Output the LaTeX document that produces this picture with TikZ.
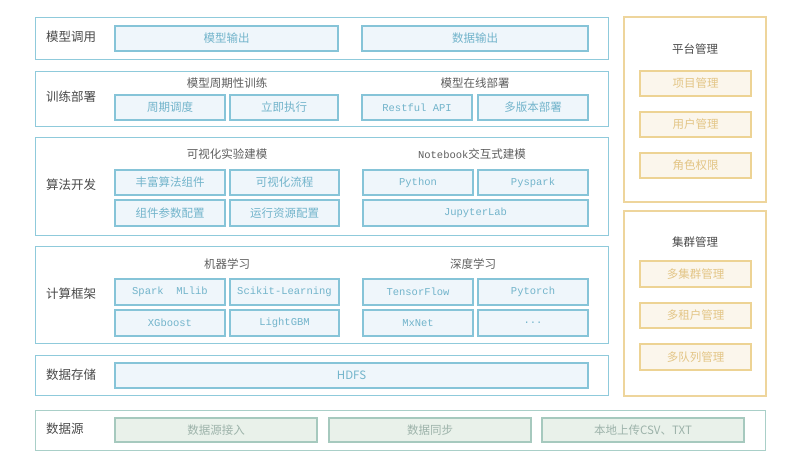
\documentclass[tikz,border=0pt]{standalone}
\usepackage{fontspec}
\setmainfont{Noto Sans CJK SC}
\newfontfamily\mono{Liberation Mono}
\newcommand\lt[1]{{\mono\fontsize{10.5}{12}\selectfont #1}}
\definecolor{bpanel}{HTML}{8FCADB}
\definecolor{bline}{HTML}{86C4D8}
\definecolor{bfill}{HTML}{EFF6FB}
\definecolor{btext}{HTML}{72B4CB}
\definecolor{opanel}{HTML}{EED59C}
\definecolor{oline}{HTML}{EDD394}
\definecolor{ofill}{HTML}{FBF6EC}
\definecolor{otext}{HTML}{E3C585}
\definecolor{gpanel}{HTML}{A9CFC8}
\definecolor{gline}{HTML}{A6C9BE}
\definecolor{gfill}{HTML}{E9F1EA}
\definecolor{gtext}{HTML}{9DB3AA}
\definecolor{labtext}{HTML}{4A4A4A}
\definecolor{tittext}{HTML}{5E5E5E}
\newcommand\bx[7]{\node[#7, minimum width={#4-#2}, minimum height={#5-#3}] (#1) at ({(#2+#4)/2},{(#3+#5)/2}) {#6};}
\tikzset{
  panelb/.style={draw=bpanel, line width=0.9pt, inner sep=0pt},
  panelo/.style={draw=opanel, line width=1.1pt, inner sep=0pt},
  panelg/.style={draw=gpanel, line width=0.9pt, inner sep=0pt},
  boxb/.style={draw=bline, fill=bfill, line width=1.1pt, inner sep=0pt, text=btext, font=\fontsize{11.5}{13}\selectfont},
  boxo/.style={draw=oline, fill=ofill, line width=1.1pt, inner sep=0pt, text=otext, font=\fontsize{11.5}{13}\selectfont},
  boxg/.style={draw=gline, fill=gfill, line width=1.1pt, inner sep=0pt, text=gtext, font=\fontsize{11.5}{13}\selectfont},
  lab/.style={anchor=west, inner sep=0pt, text=labtext, font=\fontsize{12.5}{14}\selectfont},
  tit/.style={inner sep=0pt, text=tittext, font=\fontsize{11.5}{13}\selectfont},
}
\begin{document}
\begin{tikzpicture}[x=1pt,y=-1pt]
\fill[white] (0,0) rectangle (800,461);
\useasboundingbox (0,0) rectangle (800,461);
% panels
\bx{p1}{35}{17}{608}{59}{}{panelb}
\bx{p2}{35}{71}{608}{126}{}{panelb}
\bx{p3}{35}{137}{608}{235}{}{panelb}
\bx{p4}{35}{246}{608}{343}{}{panelb}
\bx{p5}{35}{355}{608}{395}{}{panelb}
\bx{p6}{35}{410}{765}{450}{}{panelg}
\bx{pr1}{624}{17}{766}{202}{}{panelo}
\bx{pr2}{624}{211}{766}{396}{}{panelo}
% labels
\node[lab] (l1) at (46,37) {模型调用};
\node[lab] (l2) at (46,97) {训练部署};
\node[lab] (l3) at (46,185) {算法开发};
\node[lab] (l4) at (46,294) {计算框架};
\node[lab] (l5) at (46,375) {数据存储};
\node[lab] (l6) at (46,429) {数据源};
% row 1
\bx{b11}{115}{26}{338}{51}{模型输出}{boxb}
\bx{b12}{362}{26}{588}{51}{数据输出}{boxb}
% row 2
\node[tit] (t21) at (227,83) {模型周期性训练};
\node[tit] (t22) at (475,83) {模型在线部署};
\bx{b21}{115}{95}{225}{120}{周期调度}{boxb}
\bx{b22}{230}{95}{338}{120}{立即执行}{boxb}
\bx{b23}{362}{95}{472}{120}{\lt{Restful API}}{boxb}
\bx{b24}{478}{95}{588}{120}{多版本部署}{boxb}
% row 3
\node[tit] (t31) at (227,154) {可视化实验建模};
\node[tit] (t32) at (472,154) {\lt{Notebook}交互式建模};
\bx{b31}{115}{170}{225}{195}{丰富算法组件}{boxb}
\bx{b32}{230}{170}{339}{195}{可视化流程}{boxb}
\bx{b33}{115}{200}{225}{226}{组件参数配置}{boxb}
\bx{b34}{230}{200}{339}{226}{运行资源配置}{boxb}
\bx{b35}{363}{170}{473}{195}{\lt{Python}}{boxb}
\bx{b36}{478}{170}{588}{195}{\lt{Pyspark}}{boxb}
\bx{b37}{363}{200}{588}{226}{\lt{JupyterLab}}{boxb}
% row 4
\node[tit] (t41) at (227,264) {机器学习};
\node[tit] (t42) at (473,264) {深度学习};
\bx{b41}{115}{279}{225}{305}{\lt{Spark\ \ MLlib}}{boxb}
\bx{b42}{230}{279}{339}{305}{\lt{Scikit-Learning}}{boxb}
\bx{b43}{115}{310}{225}{336}{\lt{XGboost}}{boxb}
\bx{b44}{230}{310}{339}{336}{\lt{LightGBM}}{boxb}
\bx{b45}{363}{279}{473}{305}{\lt{TensorFlow}}{boxb}
\bx{b46}{478}{279}{588}{305}{\lt{Pytorch}}{boxb}
\bx{b47}{363}{310}{473}{336}{\lt{MxNet}}{boxb}
\bx{b48}{478}{310}{588}{336}{\lt{...}}{boxb}
% row 5
\bx{b51}{115}{363}{588}{388}{HDFS}{boxb}
% row 6
\bx{b61}{115}{418}{317}{442}{数据源接入}{boxg}
\bx{b62}{329}{418}{531}{442}{数据同步}{boxg}
\bx{b63}{542}{418}{744}{442}{本地上传CSV、TXT}{boxg}
% right panels
\node[tit, text=labtext] (tr1) at (695,49) {平台管理};
\bx{br11}{640}{71}{751}{96}{项目管理}{boxo}
\bx{br12}{640}{112}{751}{137}{用户管理}{boxo}
\bx{br13}{640}{153}{751}{178}{角色权限}{boxo}
\node[tit, text=labtext] (tr2) at (695,242) {集群管理};
\bx{br21}{640}{261}{751}{287}{多集群管理}{boxo}
\bx{br22}{640}{303}{751}{328}{多租户管理}{boxo}
\bx{br23}{640}{344}{751}{370}{多队列管理}{boxo}
\end{tikzpicture}
\end{document}
